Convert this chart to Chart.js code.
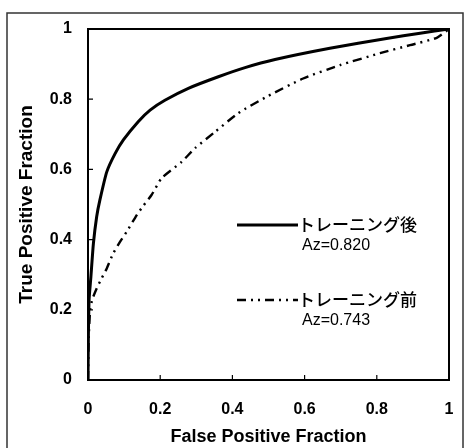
<!DOCTYPE html>
<html>
<head>
<meta charset="utf-8">
<script src="https://cdn.jsdelivr.net/npm/chart.js@4/dist/chart.umd.min.js"></script>
<style>
  html, body { margin: 0; padding: 0; background: #fff; }
  #wrap { width: 469px; height: 448px; position: relative; }
</style>
</head>
<body>
<div id="wrap"><canvas id="rocChart"></canvas></div>
<script>
// ROC curves, before / after training

const tickValues = [0, 0.2, 0.4, 0.6, 0.8, 1];

const afterX = [0, 0.001, 0.003, 0.008, 0.015, 0.024, 0.033, 0.052, 0.075, 0.098, 0.139, 0.172, 0.213, 0.278, 0.361, 0.435, 0.518, 0.67, 0.827, 0.92, 1];
const afterY = [0, 0.12, 0.228, 0.294, 0.389, 0.465, 0.513, 0.593, 0.645, 0.684, 0.736, 0.769, 0.797, 0.831, 0.864, 0.89, 0.913, 0.945, 0.973, 0.988, 1];

const beforeX = [0, 0.002, 0.006, 0.012, 0.024, 0.038, 0.052, 0.07, 0.089, 0.107, 0.135, 0.153, 0.176, 0.204, 0.26, 0.296, 0.352, 0.416, 0.495, 0.596, 0.698, 0.809, 0.892, 0.966, 1];
const beforeY = [0, 0.12, 0.2, 0.23, 0.261, 0.29, 0.318, 0.361, 0.394, 0.422, 0.47, 0.496, 0.527, 0.575, 0.622, 0.66, 0.707, 0.76, 0.807, 0.859, 0.897, 0.931, 0.954, 0.975, 1];

const seriesNames = ['トレーニング後', 'トレーニング前'];
const azLabels = ['Az=0.820', 'Az=0.743'];

const toPoints = (xs, ys) => xs.map((x, i) => ({ x, y: ys[i] }));

// outer frame + plot box + inward ticks
const framePlugin = {
  id: 'frame',
  beforeDraw(chart) {
    const c = chart.ctx;
    c.save();
    c.strokeStyle = '#333';
    c.lineWidth = 1.5;
    c.strokeRect(7, 13, 456, 445);
    c.restore();
  },
  afterDatasetsDraw(chart) {
    const c = chart.ctx, a = chart.chartArea;
    const xs = chart.scales.x, ys = chart.scales.y;
    c.save();
    c.strokeStyle = '#000';
    c.lineWidth = 2;
    c.strokeRect(a.left, a.top, a.right - a.left, a.bottom - a.top);
    c.lineWidth = 1.2;
    c.beginPath();
    tickValues.slice(1, -1).forEach(v => {
      const px = xs.getPixelForValue(v), py = ys.getPixelForValue(v);
      c.moveTo(px, a.bottom); c.lineTo(px, a.bottom - 5);
      c.moveTo(a.left, py); c.lineTo(a.left + 5, py);
    });
    c.stroke();
    c.restore();
  }
};

// legend drawn inside the plot, with Az values
const inlineLegend = {
  id: 'inlineLegend',
  afterDraw(chart) {
    const c = chart.ctx;
    const rows = [{ y: 225 }, { y: 300 }];
    c.save();
    chart.data.datasets.forEach((ds, i) => {
      const y = rows[i].y;
      c.strokeStyle = ds.borderColor;
      c.lineWidth = ds.borderWidth;
      c.setLineDash(ds.borderDash || []);
      c.beginPath();
      c.moveTo(237, y); c.lineTo(298, y);
      c.stroke();
      c.setLineDash([]);
      c.fillStyle = '#000';
      c.textBaseline = 'middle';
      c.font = '500 17px "Noto Sans CJK JP"';
      c.fillText(seriesNames[i], 298, y);
      c.font = '16px "Liberation Sans"';
      c.fillText(azLabels[i], 302, y + 21);
    });
    c.restore();
  }
};

const tickFont = { family: 'Liberation Sans', size: 16, weight: 'bold' };

new Chart(document.getElementById('rocChart'), {
  type: 'scatter',
  data: {
    datasets: [{
      label: seriesNames[0],
      data: toPoints(afterX, afterY),
      showLine: true, borderColor: '#000', borderWidth: 3,
      pointRadius: 0, tension: 0.2
    }, {
      label: seriesNames[1],
      data: toPoints(beforeX, beforeY),
      showLine: true, borderColor: '#000', borderWidth: 2.4,
      borderDash: [9, 5, 2, 5, 2, 5],
      pointRadius: 0, tension: 0.2
    }]
  },
  options: {
    responsive: true, maintainAspectRatio: false, animation: false,
    layout: { padding: { left: 8, top: 29, right: 20, bottom: 0 } },
    plugins: { legend: { display: false }, tooltip: { enabled: false } },
    scales: {
      x: {
        type: 'linear', min: 0, max: 1,
        afterBuildTicks: s => { s.ticks = tickValues.map(v => ({ value: v })); },
        afterFit: s => { s.height = 68; s.paddingRight = 0; s.paddingLeft = 0; },
        grid: { display: false, drawTicks: false },
        border: { display: false },
        ticks: { color: '#000', padding: 20, font: tickFont, callback: v => String(v) },
        title: { display: true, text: 'False Positive Fraction', color: '#000', padding: { top: 4, bottom: 0 },
                 font: { family: 'Liberation Sans', size: 18, weight: 'bold' } }
      },
      y: {
        type: 'linear', min: 0, max: 1,
        afterBuildTicks: s => { s.ticks = tickValues.map(v => ({ value: v })); },
        afterFit: s => { s.width = 80; },
        grid: { display: false, drawTicks: false },
        border: { display: false },
        ticks: { color: '#000', padding: 16, font: tickFont, callback: v => String(v) },
        title: { display: true, text: 'True Positive Fraction', color: '#000', padding: { top: 7, bottom: 4 },
                 font: { family: 'Liberation Sans', size: 19, weight: 'bold' } }
      }
    }
  },
  plugins: [framePlugin, inlineLegend]
});
</script>
</body>
</html>
